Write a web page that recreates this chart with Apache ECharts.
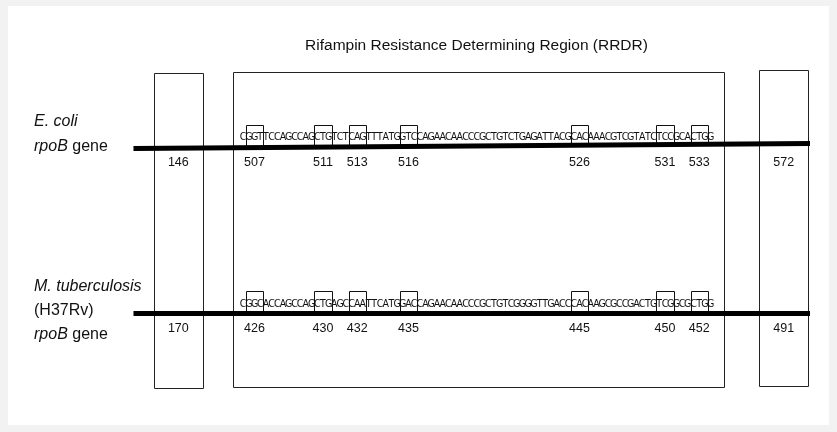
<!DOCTYPE html>
<html>
<head>
<meta charset="utf-8">
<script src="https://cdn.jsdelivr.net/npm/echarts@6/dist/echarts.min.js"></script>
<style>
  html, body { margin: 0; padding: 0; background: #f2f2f2; }
  #chart { width: 837px; height: 432px; }
</style>
</head>
<body>
<div id="chart"></div>
<script>
// ---------------- DATA ----------------
const titleText = 'Rifampin Resistance Determining Region (RRDR)';
const speciesLabels = [
  ['{i|E. coli}', '{i|rpoB} gene'],
  ['{i|M. tuberculosis}', '(H37Rv)', '{i|rpoB} gene']
];
// nucleotide sequences shown inside the RRDR (one leading base, 27 codons, one trailing base)
const ecoliSeq = 'CGGTTCCAGCCAGCTGTCTCAGTTTATGGTCCAGAACAACCCGCTGTCTGAGATTACGCACAAACGTCGTATCTCCGCACTGG';
const mtbSeq   = 'CGGCACCAGCCAGCTGAGCCAATTCATGGACCAGAACAACCCGCTGTCGGGGTTGACCCACAAGCGCCGACTGTCGGCGCTGG';
// first codon number of each sequence (codon starting at the 2nd base)
const ecoliFirstCodon = 507;
const mtbFirstCodon = 426;
// highlighted codons
const ecoliCodons = [507, 511, 513, 516, 526, 531, 533];
const mtbCodons   = [426, 430, 432, 435, 445, 450, 452];
// flanking codon numbers (left box, right box)
const ecoliFlank = [146, 572];
const mtbFlank   = [170, 491];

// ---------------- LAYOUT (positions in base units / layout units) ----------------
const layout = {
  xMin: -42.158, xMax: 104.684,          // x axis: 1 unit = 1 base
  yMin: 0, yMax: 432,
  frames: [                               // [x0, x1, top, bottom]
    [-15.14, -6.6, 73, 388],
    [-1.23, 84.9, 72, 387],
    [91.0, 99.65, 70, 386]
  ],
  lineX: [-18.74, 99.95],
  tracks: [
    { lineY: [148.5, 143.5], seqY: 137, codonTop: 125, numY: 162.5 },
    { lineY: [313.5, 313.5], seqY: 304.5, codonTop: 291, numY: 329 }
  ],
  titleX: 476.5, titleY: 46,
  labelX: 34,
  labelY: [[122, 147], [287, 311, 335]]
};

const seqs = [ecoliSeq, mtbSeq];
const firsts = [ecoliFirstCodon, mtbFirstCodon];
const codons = [ecoliCodons, mtbCodons];
const flanks = [ecoliFlank, mtbFlank];

function lineYAt(t, u) {
  const tr = layout.tracks[t];
  const f = (u - layout.lineX[0]) / (layout.lineX[1] - layout.lineX[0]);
  return tr.lineY[0] + (tr.lineY[1] - tr.lineY[0]) * f;
}

// build series data
const charData = [], charText = [];
seqs.forEach((s, t) => {
  for (let i = 0; i < s.length; i++) {
    charData.push([i + 0.5, layout.tracks[t].seqY]);
    charText.push(s[i]);
  }
});
const codonBoxData = [];
const numData = [], numText = [];
codons.forEach((arr, t) => {
  arr.forEach(c => {
    const start = 1 + 3 * (c - firsts[t]);
    codonBoxData.push([start, layout.tracks[t].codonTop, t]);
    numData.push([start + 1.5, layout.tracks[t].numY]);
    numText.push(String(c));
  });
  const fl = flanks[t];
  const lf = layout.frames[0], rf = layout.frames[2];
  numData.push([(lf[0] + lf[1]) / 2, layout.tracks[t].numY]); numText.push(String(fl[0]));
  numData.push([(rf[0] + rf[1]) / 2, layout.tracks[t].numY]); numText.push(String(fl[1]));
});
const lineData = layout.tracks.map((tr, t) => [layout.lineX[0], tr.lineY[0], layout.lineX[1], tr.lineY[1]]);

const px = v => Math.round(v) + 0.5;
const seqFont = "'Liberation Sans Narrow', 'DejaVu Sans Condensed', 'Liberation Sans', sans-serif";
const mainFont = "'Liberation Sans', Arial, sans-serif";

const chart = echarts.init(document.getElementById('chart'), null, { renderer: 'canvas' });

// species labels graphics
const labelGraphics = [];
speciesLabels.forEach((lines, t) => {
  lines.forEach((txt, k) => {
    labelGraphics.push({
      type: 'text', x: layout.labelX, y: layout.labelY[t][k],
      style: {
        text: txt, fontSize: 16, fontFamily: mainFont, fill: '#111', verticalAlign: 'middle',
        rich: { i: { fontStyle: 'italic', fontSize: 16, fontFamily: mainFont, fill: '#111' } }
      }
    });
  });
});

chart.setOption({
  animation: false,
  backgroundColor: 'transparent',
  grid: { left: 0, right: 0, top: 0, bottom: 0 },
  xAxis: { type: 'value', min: layout.xMin, max: layout.xMax, show: false },
  yAxis: { type: 'value', min: layout.yMin, max: layout.yMax, inverse: true, show: false },
  graphic: [
    { type: 'rect', z: -100, shape: { x: 8, y: 6, width: 821, height: 419 }, style: { fill: '#ffffff' } },
    {
      type: 'text', x: layout.titleX, y: layout.titleY, z: 10,
      style: { text: titleText, fontSize: 15.5, fontFamily: mainFont, fill: '#111', align: 'center', verticalAlign: 'middle' }
    }
  ].concat(labelGraphics),
  series: [
    {
      type: 'custom', name: 'frames', z: 2,
      data: layout.frames,
      renderItem: (params, api) => {
        const p0 = api.coord([api.value(0), api.value(2)]);
        const p1 = api.coord([api.value(1), api.value(3)]);
        return {
          type: 'rect',
          shape: { x: px(p0[0]), y: px(p0[1]), width: Math.round(p1[0] - p0[0]), height: Math.round(p1[1] - p0[1]) },
          style: { fill: 'none', stroke: '#222', lineWidth: 1 }
        };
      }
    },
    {
      type: 'custom', name: 'codonBoxes', z: 3,
      data: codonBoxData,
      renderItem: (params, api) => {
        const u0 = api.value(0), top = api.value(1), t = api.value(2);
        const u1 = u0 + 3;
        const a = api.coord([u0, top]), b = api.coord([u1, top]);
        const c = api.coord([u1, lineYAt(t, u1)]), d = api.coord([u0, lineYAt(t, u0)]);
        return {
          type: 'polyline',
          shape: { points: [[px(d[0]), d[1]], [px(a[0]), px(a[1])], [px(b[0]), px(b[1])], [px(c[0]), c[1]]] },
          style: { fill: 'none', stroke: '#111', lineWidth: 1 }
        };
      }
    },
    {
      type: 'custom', name: 'geneLines', z: 4,
      data: lineData,
      renderItem: (params, api) => {
        const a = api.coord([api.value(0), api.value(1)]);
        const b = api.coord([api.value(2), api.value(3)]);
        return {
          type: 'line',
          shape: { x1: a[0], y1: a[1], x2: b[0], y2: b[1] },
          style: { stroke: '#000', lineWidth: 5 }
        };
      }
    },
    {
      type: 'custom', name: 'sequence', z: 5,
      data: charData,
      renderItem: (params, api) => {
        const p = api.coord([api.value(0), api.value(1)]);
        return {
          type: 'text', x: p[0], y: p[1],
          style: { text: charText[params.dataIndex], fontSize: 10.5, fontFamily: seqFont, fill: '#111', align: 'center', verticalAlign: 'middle' }
        };
      }
    },
    {
      type: 'custom', name: 'numbers', z: 5,
      data: numData,
      renderItem: (params, api) => {
        const p = api.coord([api.value(0), api.value(1)]);
        return {
          type: 'text', x: p[0], y: p[1],
          style: { text: numText[params.dataIndex], fontSize: 12.5, fontFamily: mainFont, fill: '#111', align: 'center', verticalAlign: 'middle' }
        };
      }
    }
  ]
});
</script>
</body>
</html>
